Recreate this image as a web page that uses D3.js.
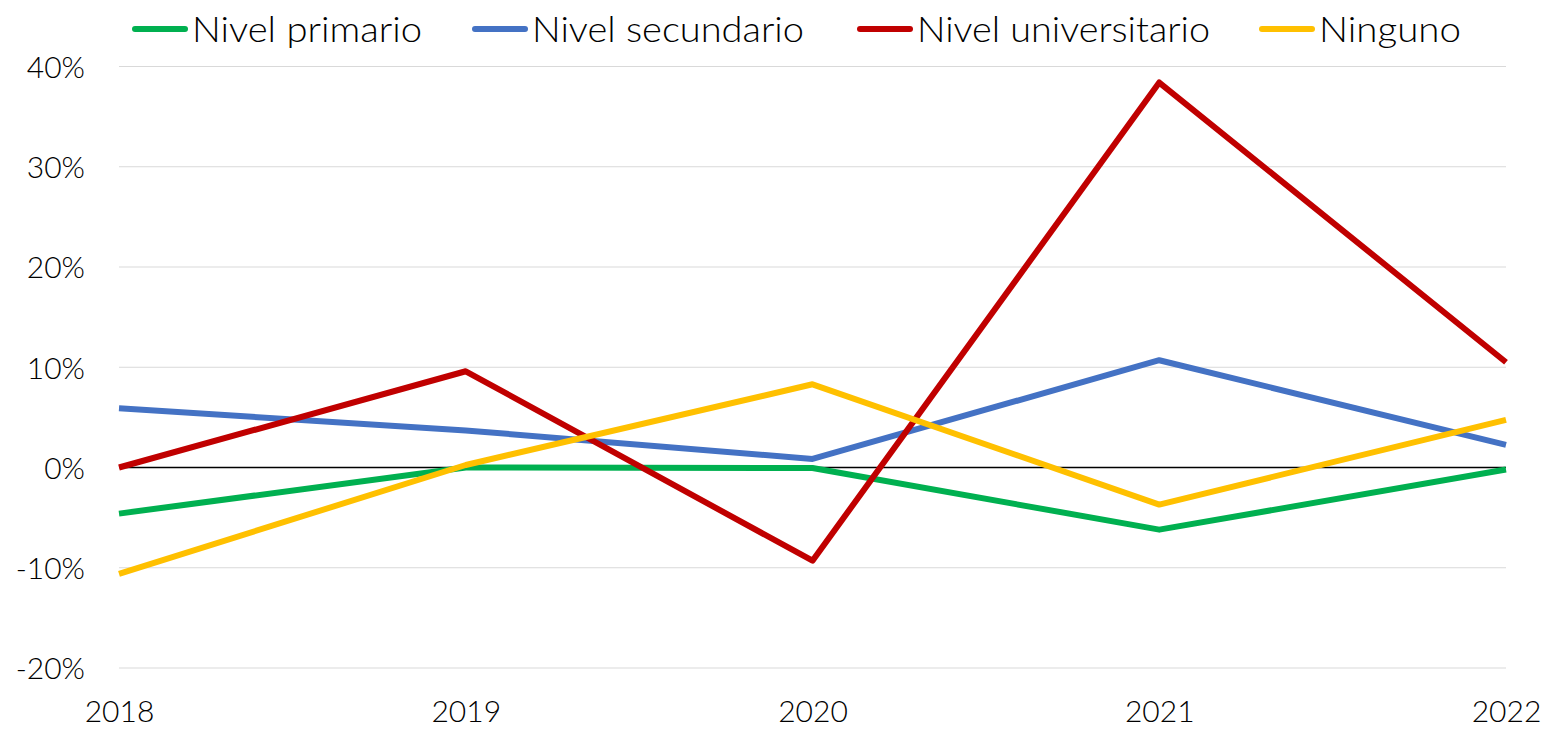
<!DOCTYPE html>
<html>
<head>
<meta charset="utf-8">
<script src="https://cdn.jsdelivr.net/npm/d3@7"></script>
<style>
  html, body { margin: 0; padding: 0; background: #fff; }
  svg { display: block; }
  text { font-family: Lato, "Open Sans", sans-serif; fill: #000; font-weight: 300; }
</style>
</head>
<body>
<svg id="chart" width="1543" height="730"></svg>
<script>
const years = ["2018", "2019", "2020", "2021", "2022"];
const seriesNames = ["Nivel primario", "Nivel secundario", "Nivel universitario", "Ninguno"];
const seriesColors = ["#00B050", "#4472C4", "#C00000", "#FFC000"];
const primario = [-4.6, 0.0, -0.05, -6.2, -0.2];
const secundario = [5.9, 3.7, 0.85, 10.7, 2.25];
const universitario = [0.0, 9.6, -9.3, 38.4, 10.5];
const ninguno = [-10.6, 0.25, 8.3, -3.7, 4.75];
const yTicks = [-20, -10, 0, 10, 20, 30, 40];

const allSeries = [primario, secundario, universitario, ninguno];

const svg = d3.select("#chart");
const W = 1543, H = 730;
const m = { left: 119, right: 37, top: 66.5, bottom: 62 };

const x = d3.scalePoint().domain(years).range([m.left, W - m.right]);
const y = d3.scaleLinear().domain([-20, 40]).range([H - m.bottom, m.top]);

// gridlines
svg.append("g").selectAll("line").data(yTicks.filter(d => d !== 0)).join("line")
  .attr("x1", m.left).attr("x2", W - m.right)
  .attr("y1", d => y(d)).attr("y2", d => y(d))
  .attr("stroke", "#d9d9d9").attr("stroke-width", 1);

// zero line
svg.append("line")
  .attr("x1", m.left).attr("x2", W - m.right)
  .attr("y1", y(0)).attr("y2", y(0))
  .attr("stroke", "#000").attr("stroke-width", 1.3);

// y axis labels
const yAxis = d3.axisLeft(y).tickValues(yTicks).tickSize(0).tickPadding(0)
  .tickFormat(d => d + "%");
const gy = svg.append("g").attr("transform", `translate(${m.left - 34},0)`).call(yAxis);
gy.select(".domain").remove();
gy.selectAll("text").attr("font-size", 30).attr("font-family", "Lato, sans-serif")
  .attr("font-weight", 300).attr("fill", "#000").attr("dy", "0.36em");

// x axis labels
const xAxis = d3.axisBottom(x).tickSize(0).tickPadding(0);
const gx = svg.append("g").attr("transform", `translate(0,${H - m.bottom + 48})`).call(xAxis);
gx.select(".domain").remove();
gx.selectAll("text").attr("font-size", 30).attr("font-family", "Lato, sans-serif")
  .attr("font-weight", 300).attr("fill", "#000").attr("dy", "0.2em");

// lines
const line = d3.line().x((d, i) => x(years[i])).y(d => y(d));
svg.append("g").selectAll("path").data(allSeries).join("path")
  .attr("d", d => line(d))
  .attr("fill", "none")
  .attr("stroke", (d, i) => seriesColors[i])
  .attr("stroke-width", 6)
  .attr("stroke-linejoin", "round");

// legend
const legendX = [133, 473, 858, 1260];
const legendTextW = [230, 272, 293, 142];
const lg = svg.append("g");
seriesNames.forEach((name, i) => {
  const g = lg.append("g").attr("transform", `translate(${legendX[i]},29)`);
  g.append("line").attr("x1", 2).attr("x2", 52).attr("y1", 0).attr("y2", 0)
    .attr("stroke", seriesColors[i]).attr("stroke-width", 6).attr("stroke-linecap", "round");
  g.append("text").attr("x", 59).attr("y", 0).attr("dy", "0.36em")
    .attr("font-size", 36)
    .attr("textLength", legendTextW[i]).attr("lengthAdjust", "spacingAndGlyphs")
    .text(name);
});
</script>
</body>
</html>
